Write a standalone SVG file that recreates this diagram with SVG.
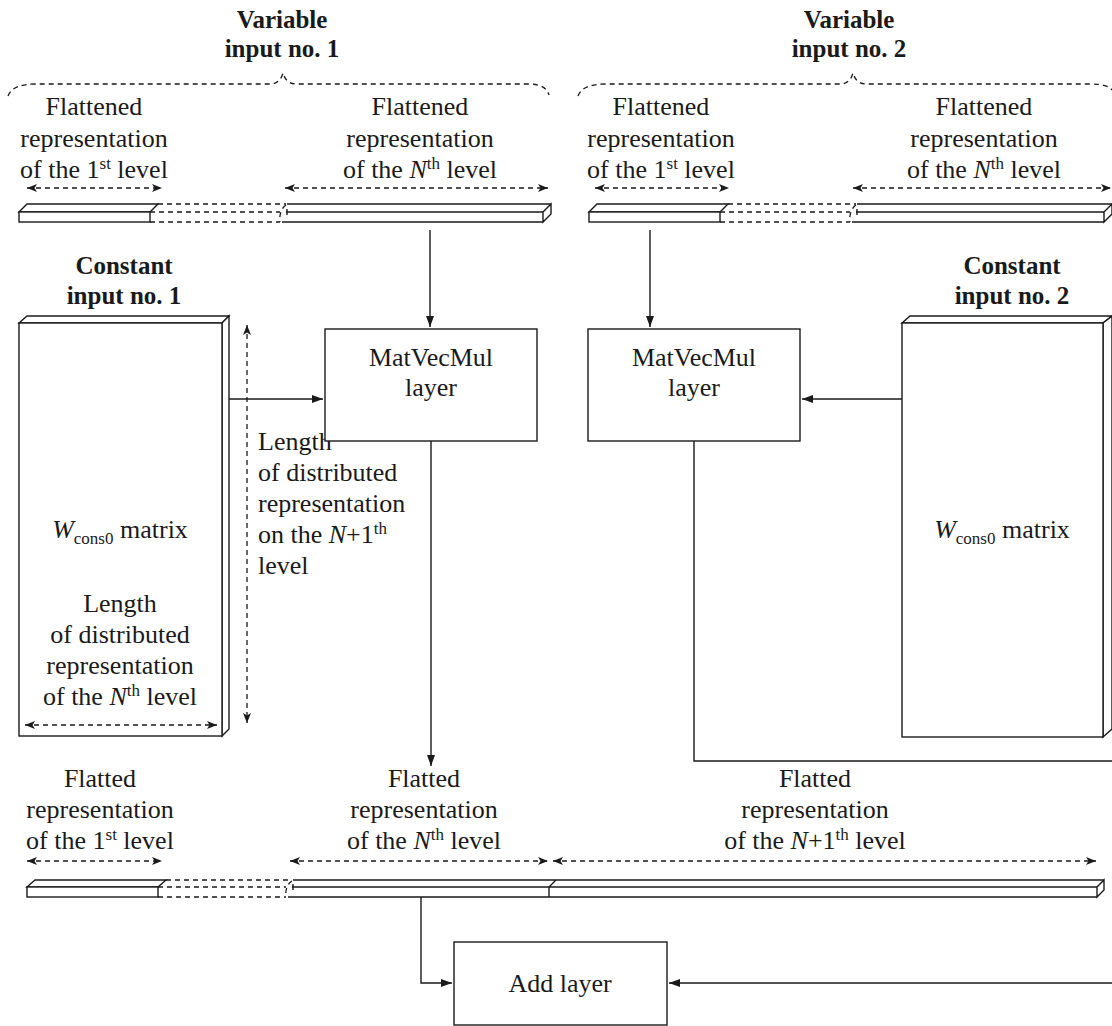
<svg xmlns="http://www.w3.org/2000/svg" width="1112" height="1026" viewBox="0 0 1112 1026" font-family="'Liberation Serif', serif">
<style>
text{font-family:'Liberation Serif',serif;font-size:26px;fill:#1a1a1a;text-anchor:middle}
.b{font-weight:bold;font-size:25px}
.l{text-anchor:start}
.s{font-size:17px}
.ln{fill:none;stroke:#1a1a1a;stroke-width:1.4}
.d{fill:none;stroke:#1a1a1a;stroke-width:1.3;stroke-dasharray:5 4}
.box{fill:#fff;stroke:#1a1a1a;stroke-width:1.4}
</style>
<defs>
<marker id="ar" markerUnits="userSpaceOnUse" markerWidth="12" markerHeight="8" refX="11" refY="4" orient="auto-start-reverse"><path d="M0,0 L11,4 L0,8 Z" fill="#1a1a1a"/></marker>
<marker id="da" markerUnits="userSpaceOnUse" markerWidth="11" markerHeight="8" refX="10" refY="4" orient="auto-start-reverse"><path d="M0,0 L10,4 L0,8 L2.5,4 Z" fill="#1a1a1a"/></marker>
</defs>
<rect width="1112" height="1026" fill="#fff"/>

<g id="titles">
<text class="b" x="282" y="28">Variable</text>
<text class="b" x="282" y="57">input no. 1</text>
<text class="b" x="849" y="28">Variable</text>
<text class="b" x="849" y="57">input no. 2</text>
</g>

<g id="braces">
<path class="d" d="M8,96 C11,88 20,84 36,84 L270,84 C277,84 281,80 283,73 C285,80 289,84 296,84 L528,84 C541,84 547,88 549,95"/>
<path class="d" d="M578,96 C581,88 590,84 606,84 L840,84 C847,84 851,80 853,73 C855,80 859,84 866,84 L1090,84 C1103,84 1109,86 1112,90"/>
</g>

<g id="var1-labels">
<text x="94" y="115">Flattened</text>
<text x="94" y="147">representation</text>
<text x="94" y="178">of the 1<tspan class="s" dy="-9">st</tspan><tspan dy="9"> level</tspan></text>
<path class="d" d="M27,188 H162" marker-start="url(#da)" marker-end="url(#da)"/>
<text x="420" y="115">Flattened</text>
<text x="420" y="147">representation</text>
<text x="420" y="178">of the <tspan font-style="italic">N</tspan><tspan class="s" dy="-9">th</tspan><tspan dy="9"> level</tspan></text>
<path class="d" d="M285,188 H548" marker-start="url(#da)" marker-end="url(#da)"/>
</g>

<g id="var2-labels">
<text x="661" y="115">Flattened</text>
<text x="661" y="147">representation</text>
<text x="661" y="178">of the 1<tspan class="s" dy="-9">st</tspan><tspan dy="9"> level</tspan></text>
<path class="d" d="M595,188 H729" marker-start="url(#da)" marker-end="url(#da)"/>
<text x="984" y="115">Flattened</text>
<text x="984" y="147">representation</text>
<text x="984" y="178">of the <tspan font-style="italic">N</tspan><tspan class="s" dy="-9">th</tspan><tspan dy="9"> level</tspan></text>
<path class="d" d="M853,188 H1111" marker-start="url(#da)" marker-end="url(#da)"/>
</g>

<g id="var1-bar">
<path class="box" d="M19,212 L27,204 H158 L150,212 Z"/>
<rect class="box" x="19" y="212" width="131" height="10"/>
<path class="d" d="M158,204 H286 M150,212 H280 M150,222 H280"/>
<path class="d" d="M286,205 C281,208 279,216 280,222"/>
<path class="ln" d="M287,204 H551 M286,212 H543 M282,222 H543 M287,209 V215"/>
<path class="box" d="M543,212 L551,204 V214 L543,222 Z"/>
</g>

<g id="var2-bar">
<path class="box" d="M589,212 L597,204 H728 L720,212 Z"/>
<rect class="box" x="589" y="212" width="131" height="10"/>
<path class="d" d="M728,204 H856 M720,212 H850 M720,222 H850"/>
<path class="d" d="M856,205 C851,208 849,216 850,222"/>
<path class="ln" d="M857,204 H1112 M856,212 H1104 M852,222 H1104 M857,209 V215"/>
<path class="box" d="M1104,212 L1112,204 V214 L1104,222 Z"/>
</g>

<g id="const1">
<text class="b" x="124" y="274">Constant</text>
<text class="b" x="124" y="304">input no. 1</text>
<path class="box" d="M19,323 L27,316 H229 L222,323 Z"/>
<path class="box" d="M222,323 L229,316 V729 L222,736 Z"/>
<rect class="box" x="19" y="323" width="203" height="413"/>
<text x="120" y="538"><tspan font-style="italic">W</tspan><tspan class="s" dy="6">cons0</tspan><tspan dy="-6"> matrix</tspan></text>
<text x="120" y="612">Length</text>
<text x="120" y="643">of distributed</text>
<text x="120" y="674">representation</text>
<text x="120" y="705">of the <tspan font-style="italic">N</tspan><tspan class="s" dy="-9">th</tspan><tspan dy="9"> level</tspan></text>
<path class="d" d="M25,725 H217" marker-start="url(#da)" marker-end="url(#da)"/>
</g>

<g id="length-dim">
<path class="d" d="M247,325 V723" marker-start="url(#da)" marker-end="url(#da)"/>
<text class="l" x="258" y="450">Length</text>
<text class="l" x="258" y="481">of distributed</text>
<text class="l" x="258" y="512">representation</text>
<text class="l" x="258" y="543">on the <tspan font-style="italic">N</tspan>+1<tspan class="s" dy="-9">th</tspan></text>
<text class="l" x="258" y="574">level</text>
</g>

<g id="const2">
<text class="b" x="1012" y="274">Constant</text>
<text class="b" x="1012" y="304">input no. 2</text>
<path class="box" d="M902,323 L910,316 H1112 L1103,323 Z"/>
<path class="box" d="M1103,323 L1112,316 V729 L1103,737 Z"/>
<rect class="box" x="902" y="323" width="201" height="414"/>
<text x="1002" y="538"><tspan font-style="italic">W</tspan><tspan class="s" dy="6">cons0</tspan><tspan dy="-6"> matrix</tspan></text>
</g>

<g id="matvec1">
<rect class="box" x="325" y="329" width="212" height="112"/>
<text x="431" y="366">MatVecMul</text>
<text x="431" y="396">layer</text>
</g>

<g id="matvec2">
<rect class="box" x="588" y="329" width="212" height="112"/>
<text x="694" y="366">MatVecMul</text>
<text x="694" y="396">layer</text>
</g>

<g id="out-labels">
<text x="100" y="787">Flatted</text>
<text x="100" y="818">representation</text>
<text x="100" y="849">of the 1<tspan class="s" dy="-9">st</tspan><tspan dy="9"> level</tspan></text>
<path class="d" d="M27,861 H162" marker-start="url(#da)" marker-end="url(#da)"/>
<text x="424" y="787">Flatted</text>
<text x="424" y="818">representation</text>
<text x="424" y="849">of the <tspan font-style="italic">N</tspan><tspan class="s" dy="-9">th</tspan><tspan dy="9"> level</tspan></text>
<path class="d" d="M290,861 H548" marker-start="url(#da)" marker-end="url(#da)"/>
<text x="815" y="787">Flatted</text>
<text x="815" y="818">representation</text>
<text x="815" y="849">of the <tspan font-style="italic">N</tspan>+1<tspan class="s" dy="-9">th</tspan><tspan dy="9"> level</tspan></text>
<path class="d" d="M553,861 H1096" marker-start="url(#da)" marker-end="url(#da)"/>
</g>

<g id="out-bar">
<path class="box" d="M27,887 L35,880 H166 L158,887 Z"/>
<rect class="box" x="27" y="887" width="131" height="10"/>
<path class="d" d="M166,880 H292 M158,887 H286 M158,897 H286"/>
<path class="d" d="M292,881 C287,884 285,891 286,897"/>
<path class="ln" d="M293,880 H1104 M292,887 H1097 M288,897 H1097 M293,884 V890 M549,887 V897 M549,887 L556,880"/>
<path class="box" d="M1097,887 L1104,880 V890 L1097,897 Z"/>
</g>

<g id="add">
<rect class="box" x="454" y="942" width="213" height="83"/>
<text x="560" y="992">Add layer</text>
</g>

<g id="connectors">
<path class="ln" d="M430,230 V327" marker-end="url(#ar)"/>
<path class="ln" d="M650,230 V327" marker-end="url(#ar)"/>
<path class="ln" d="M229,399 H323" marker-end="url(#ar)"/>
<path class="ln" d="M902,399 H802" marker-end="url(#ar)"/>
<path class="ln" d="M431,441 V766" marker-end="url(#ar)"/>
<path class="ln" d="M694,441 V761 H1112"/>
<path class="ln" d="M421,897 V983 H452" marker-end="url(#ar)"/>
<path class="ln" d="M1112,983 H669" marker-end="url(#ar)"/>
</g>
</svg>
